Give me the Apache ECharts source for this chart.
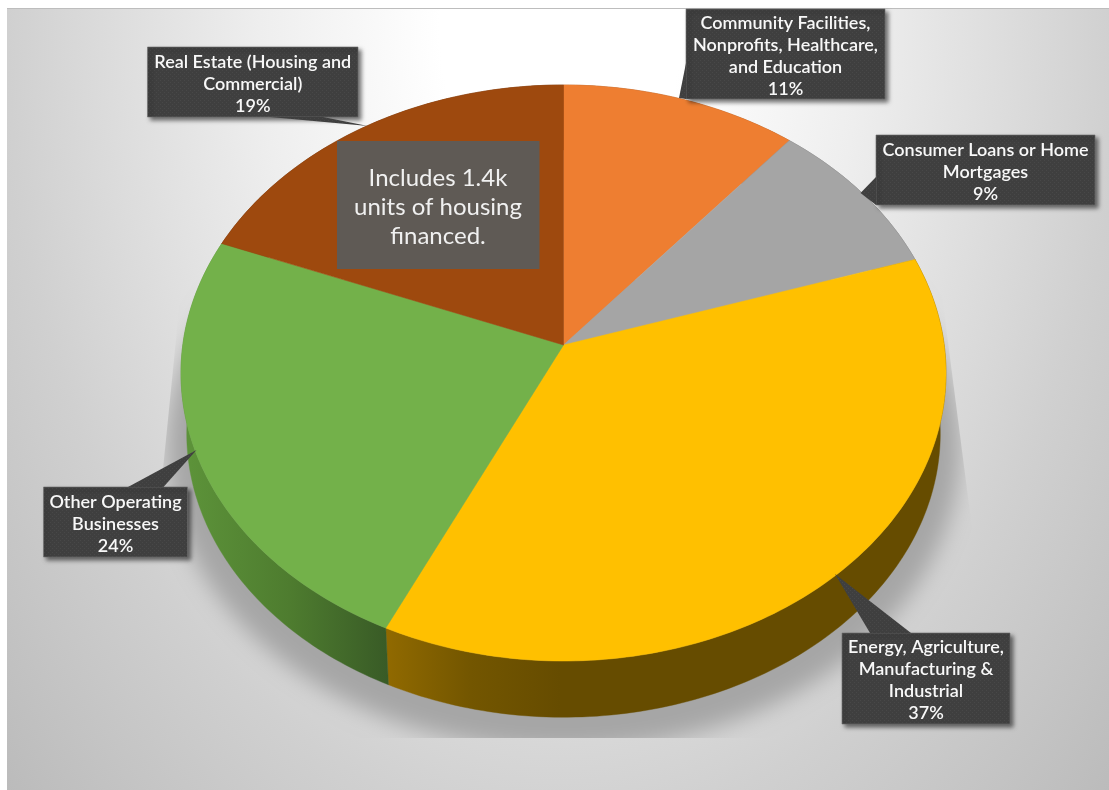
<!DOCTYPE html>
<html>
<head>
<meta charset="utf-8">
<style>html,body{margin:0;padding:0;background:#fff}#chart{width:1109px;height:790px}</style>
<script src="https://cdn.jsdelivr.net/npm/echarts@6/dist/echarts.min.js"></script>
</head>
<body>
<div id="chart"></div>
<script>
// Loan portfolio by sector, clockwise from twelve o'clock
const categories = [
  'Community Facilities,\nNonprofits, Healthcare,\nand Education',
  'Consumer Loans or Home\nMortgages',
  'Energy, Agriculture,\nManufacturing &\nIndustrial',
  'Other Operating\nBusinesses',
  'Real Estate (Housing and\nCommercial)'
];
const shares = [11, 9, 37, 24, 19];
const note = 'Includes 1.4k\nunits of housing\nfinanced.';

const topColors = ['#EE7E31', '#A5A5A5', '#FFC000', '#73B14A', '#9E490E'];
// Side wall shading: [x, colour] stops across the page
const sideShade = [
  [[0, '#8f4a1c'], [1, '#8f4a1c']],
  [[0, '#636363'], [1, '#636363']],
  [[385, '#916A00'], [470, '#735600'], [560, '#664C00']],
  [[190, '#5C9239'], [290, '#4E7C2F'], [390, '#385A26']],
  [[0, '#5f2c08'], [1, '#5f2c08']]
];

// Callout boxes and their pointers, in page pixels
const calloutLayout = [
  { box: [686, 9, 199, 90], tail: [[686, 63], [679, 98], [686, 99]] },
  { box: [876, 135, 219, 70], tail: [[876, 177], [860.5, 193], [876, 205]] },
  { box: [842, 633, 168, 91], tail: [[870, 633], [835, 574], [911, 633]] },
  { box: [43.5, 487, 144, 70], tail: [[128, 487], [196.5, 450], [163.5, 487]] },
  { box: [147.5, 47, 210.5, 70], tail: [[270, 117], [368, 126], [323, 117]] }
];

// Tilted-disc projection: a unit circle seen in perspective
const topRim = { cx: 563.5, cy: 345, a: 380.7, b: 285.3, k: 0.0972 };
const baseRim = { cx: 563.5, cy: 406, a: 375, b: 281, k: 0.0972 };
const shadowRim = { cx: 563.5, cy: 418, a: 395, b: 300, k: 0.0972 };

function project(rim, deg) {
  const t = deg * Math.PI / 180;
  const x = Math.sin(t), y = -Math.cos(t);
  const w = 1 - rim.k * y;
  return [rim.cx + rim.a * x / w, rim.cy + rim.b * y / w];
}
function arc(rim, from, to, dx) {
  const pts = [];
  const n = Math.max(2, Math.ceil(Math.abs(to - from)));
  for (let i = 0; i <= n; i++) {
    const p = project(rim, from + (to - from) * i / n);
    pts.push([p[0] + (dx || 0), p[1]]);
  }
  return pts;
}
function sweep(index) {
  const total = shares.reduce((s, v) => s + v, 0);
  let before = 0;
  for (let i = 0; i < index; i++) before += shares[i];
  return [before / total * 360, (before + shares[index]) / total * 360];
}

// Fine dotted texture of the callout boxes
const dots = document.createElement('canvas');
dots.width = dots.height = 4;
(function () {
  const c = dots.getContext('2d');
  c.fillStyle = '#3f3f3f';
  c.fillRect(0, 0, 4, 4);
  c.fillStyle = '#484848';
  c.fillRect(0, 0, 1, 1);
  c.fillRect(2, 2, 1, 1);
})();
const boxFill = { image: dots, repeat: 'repeat' };

const backdropScale = 1.45, backdropOy = 30;
const shadowOffstage = 3000;
const chart = echarts.init(document.getElementById('chart'), null, { renderer: 'canvas' });
const rows = shares.map((v, i) => ({ value: v, name: categories[i] }));

chart.setOption({
  animation: false,
  backgroundColor: '#ffffff',
  tooltip: { show: false },
  series: [
    {
      // Sheet backdrop with its elliptical fade
      type: 'custom', coordinateSystem: 'none', silent: true, z: 1,
      data: [0],
      renderItem: () => ({
        type: 'group',
        children: [
          {
            type: 'group', originX: 0, originY: backdropOy, scaleY: backdropScale,
            children: [{
              type: 'rect',
              shape: {
                x: 7, width: 1102,
                y: backdropOy + (9 - backdropOy) / backdropScale,
                height: 781 / backdropScale
              },
              style: {
                fill: new echarts.graphic.RadialGradient(560, backdropOy, 800, [
                  { offset: 0, color: '#ffffff' },
                  { offset: 0.15, color: '#ffffff' },
                  { offset: 0.375, color: '#eeeeee' },
                  { offset: 0.69, color: '#d0d0d0' },
                  { offset: 0.94, color: '#bcbcbc' },
                  { offset: 1, color: '#b8b8b8' }
                ], true)
              }
            }]
          },
          { type: 'rect', shape: { x: 7, y: 8, width: 1102, height: 1 }, style: { fill: '#bdbdbd' } }
        ]
      })
    },
    {
      // Soft floor shadow, cut off by a trapezoid. The shape sits off the page
      // so that only its blurred shadow lands on the sheet.
      type: 'custom', coordinateSystem: 'none', silent: true, z: 2,
      data: [0],
      renderItem: () => ({
        type: 'group',
        clipPath: {
          type: 'polygon',
          shape: { points: [[182, 280], [940, 280], [999, 738], [136, 738]] }
        },
        children: [{
          type: 'polygon',
          shape: { points: arc(shadowRim, 0, 360, -shadowOffstage) },
          style: {
            fill: '#a6a6a6', shadowColor: '#a6a6a6', shadowBlur: 22,
            shadowOffsetX: shadowOffstage
          }
        }]
      })
    },
    {
      // Side walls; the top faces hide the far ones
      type: 'custom', coordinateSystem: 'none', silent: true, z: 3,
      data: rows,
      renderItem: (params) => {
        const i = params.dataIndex;
        const [a, b] = sweep(i);
        const points = arc(topRim, a, b).concat(arc(baseRim, b, a));
        const s = sideShade[i];
        const x0 = s[0][0], x1 = s[s.length - 1][0];
        const fill = new echarts.graphic.LinearGradient(x0, 0, x1, 0,
          s.map(([x, color]) => ({ offset: (x - x0) / (x1 - x0), color })), true);
        return { type: 'polygon', shape: { points }, style: { fill, stroke: fill, lineWidth: 0.4 } };
      }
    },
    {
      // Top faces
      type: 'custom', coordinateSystem: 'none', silent: true, z: 4,
      data: rows,
      renderItem: (params) => {
        const i = params.dataIndex;
        const [a, b] = sweep(i);
        const points = [[topRim.cx, topRim.cy]].concat(arc(topRim, a, b));
        return {
          type: 'polygon', shape: { points },
          style: { fill: topColors[i], stroke: topColors[i], lineWidth: 0.5 }
        };
      }
    },
    {
      // Callouts naming each share
      type: 'custom', coordinateSystem: 'none', silent: true, z: 5,
      data: rows,
      renderItem: (params, api) => {
        const i = params.dataIndex;
        const l = calloutLayout[i];
        const [x, y, w, h] = l.box;
        return {
          type: 'group',
          children: [
            {
              type: 'rect',
              shape: { x, y, width: w, height: h },
              style: {
                fill: boxFill, stroke: '#6e6e6e', lineWidth: 0.6,
                shadowColor: 'rgba(0,0,0,0.55)', shadowBlur: 4, shadowOffsetX: 3, shadowOffsetY: 3
              }
            },
            { type: 'polygon', shape: { points: l.tail }, style: { fill: boxFill } },
            {
              type: 'text',
              style: {
                x: x + w / 2, y: y + h / 2 + 2,
                text: categories[i] + '\n' + api.value(0) + '%',
                align: 'center', verticalAlign: 'middle',
                fill: '#f8f8f8', fontFamily: 'Lato', fontSize: 18, fontWeight: 600, lineHeight: 22
              }
            }
          ]
        };
      }
    },
    {
      // Housing note laid over the real-estate slice
      type: 'custom', coordinateSystem: 'none', silent: true, z: 6,
      data: [0],
      renderItem: () => ({
        type: 'group',
        children: [
          { type: 'rect', shape: { x: 337, y: 141, width: 202.5, height: 128 }, style: { fill: '#5F5A55' } },
          {
            type: 'text',
            style: {
              x: 438, y: 207, text: note,
              align: 'center', verticalAlign: 'middle',
              fill: '#f0f0f0', fontFamily: 'Lato', fontSize: 24, fontWeight: 400, lineHeight: 29
            }
          }
        ]
      })
    }
  ]
});
</script>
</body>
</html>
